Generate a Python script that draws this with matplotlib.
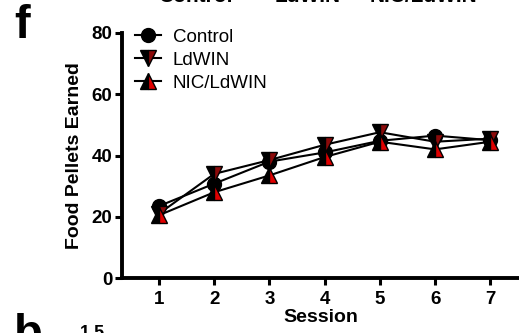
import matplotlib
matplotlib.use("Agg")
import matplotlib.pyplot as plt

plt.rcParams['font.family'] = ['Liberation Sans', 'DejaVu Sans']

sessions = [1, 2, 3, 4, 5, 6, 7]
control = [23.5, 30.8, 38.0, 41.0, 44.8, 46.5, 45.0]
ldwin = [21.0, 34.0, 38.5, 43.5, 47.6, 44.5, 45.5]
nic_ldwin = [20.5, 28.0, 33.5, 39.5, 44.5, 42.0, 44.5]
yticks = [0, 20, 40, 60, 80]

fig = plt.figure(figsize=(5.19, 3.33), dpi=100)
ax = fig.add_axes([0.235, 0.165, 0.765, 0.736])

ax.plot(sessions, control, color='black', lw=1.5, marker='o', ms=10,
        mfc='black', mec='black', label='Control', zorder=3)
ax.plot(sessions, ldwin, color='black', lw=1.5, marker='v', ms=11,
        fillstyle='left', mfc='black', markerfacecoloralt='#8b0a0a',
        mec='black', mew=1, label='LdWIN', zorder=3)
ax.plot(sessions, nic_ldwin, color='black', lw=1.5, marker='^', ms=11,
        fillstyle='left', mfc='black', markerfacecoloralt='#e00000',
        mec='black', mew=1, label='NIC/LdWIN', zorder=3)

ax.set_xlim(0.33, 7.52)
ax.set_ylim(0, 80)
ax.set_xticks(sessions)
ax.set_yticks(yticks)
ax.spines['top'].set_visible(False)
ax.spines['right'].set_visible(False)
for s in ('left', 'bottom'):
    ax.spines[s].set_linewidth(2.8)
ax.tick_params(width=2.2, length=5, labelsize=13.5)
ax.tick_params(axis='x', pad=4)
ax.tick_params(axis='y', pad=2)
for lab in ax.get_xticklabels() + ax.get_yticklabels():
    lab.set_fontweight('bold')

ax.set_xlabel('Session', fontsize=14, fontweight='bold', labelpad=1)
ax.set_ylabel('Food Pellets Earned', fontsize=14, fontweight='bold', labelpad=6)

ax.legend(loc='upper left', bbox_to_anchor=(0.0, 1.07), frameon=False,
          fontsize=13.5, handlelength=1.4, handletextpad=0.6,
          labelspacing=0.3, borderpad=0.2)

# panel letters and neighbouring panel text
fig.text(0.027, 1 - 38 / 333, 'f', fontsize=34, fontweight='bold', va='baseline')
fig.text(0.027, 1 - 347 / 333, 'b', fontsize=34, fontweight='bold', va='baseline')
fig.text(80 / 519, 1 - 338 / 333, '1.5', fontsize=13, fontweight='bold', va='baseline')
for x, t in [(158, 'Control'), (275, 'LdWIN'), (370, 'NIC/LdWIN')]:
    fig.text(x / 519, 1 - 2 / 333, t, fontsize=15, fontweight='bold', va='baseline')

fig.savefig('out.png', dpi=100)
